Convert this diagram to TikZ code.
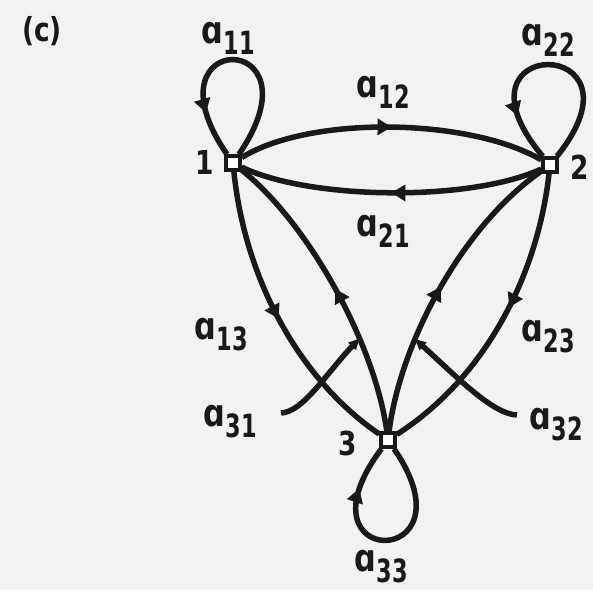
\documentclass[tikz,border=0pt]{standalone}
\usepackage{fontspec}
\usepackage{graphicx}
\newfontfamily\djf{DejaVu Sans}
\usetikzlibrary{arrows.meta,decorations.markings,backgrounds}
\definecolor{paper}{gray}{0.95}
\definecolor{ink}{gray}{0.1}
\newcommand{\albl}[1]{{\djf\bfseries\scalebox{0.8}[1]{\fontsize{38}{38}\selectfont ɑ}\hspace{1pt}\raisebox{-11pt}{\scalebox{0.7}[1]{\fontsize{32}{32}\selectfont #1}}}}
\newcommand{\nlbl}[1]{{\djf\bfseries\scalebox{0.8}[1]{\fontsize{33}{33}\selectfont #1}}}
\tikzset{
  sq/.style={rectangle, draw=ink, fill=white, line width=3.5pt, minimum size=14pt, inner sep=0pt},
  edge/.style={draw=ink, line width=5.5pt},
  lab/.style={inner sep=0pt, anchor=base west, text=ink},
  midarrow/.style={postaction={decorate}, decoration={markings, mark=at position #1 with {\arrow[ink]{Triangle[length=14pt,width=16pt]}}}},
  leadtip/.style={-{Triangle[length=11pt,width=10pt]}}
}
\begin{document}
\begin{tikzpicture}[x=1pt,y=-1pt]
\begin{scope}[on background layer]
\fill[paper] (0,0) rectangle (593,590);
\end{scope}
\useasboundingbox (0,0) rectangle (593,590);
% states
\node[sq] (n1) at (233,163) {};
\node[sq] (n2) at (550,165) {};
\node[sq] (n3) at (388,440) {};
% labels
\node[inner sep=0pt, text=ink] (tc) at (42,31) {\nlbl{(c)}};
\node[inner sep=0pt, text=ink] (t1) at (205,162) {\nlbl{1}};
\node[inner sep=0pt, text=ink] (t2) at (580,167) {\nlbl{2}};
\node[inner sep=0pt, text=ink] (t3) at (348,443) {\nlbl{3}};
\node[lab] (l11) at (201,43) {\albl{11}};
\node[lab] (l22) at (521,45) {\albl{22}};
\node[lab] (l12) at (356,97) {\albl{12}};
\node[lab] (l21) at (356,236) {\albl{21}};
\node[lab] (l13) at (194,339) {\albl{13}};
\node[lab] (l31) at (203,426) {\albl{31}};
\node[lab] (l23) at (521,341) {\albl{23}};
\node[lab] (l32) at (529,429) {\albl{32}};
\node[lab] (l33) at (354,571) {\albl{33}};
\coordinate (c31) at (281,413);
\coordinate (c32) at (517,415);
\begin{scope}[on background layer]
% 1 <-> 2
\draw[edge, midarrow=0.5] (n1) .. controls (310,115) and (470,118) .. (n2);
\draw[edge, midarrow=0.5] (n2) .. controls (470,202) and (310,200) .. (n1);
% 1 <-> 3
\draw[edge, midarrow=0.5] (n1) .. controls (245,280) and (300,380) .. (n3);
\draw[edge, midarrow=0.5] (n3) .. controls (375,345) and (310,225) .. (n1) coordinate[pos=0.33] (p31);
% 2 <-> 3
\draw[edge, midarrow=0.45] (n2) .. controls (537,280) and (482,380) .. (n3);
\draw[edge, midarrow=0.5] (n3) .. controls (400,345) and (460,228) .. (n2) coordinate[pos=0.33] (p32);
% self loops
\draw[edge, midarrow=0.8] (n1) .. controls (325,28) and (140,28) .. (n1);
\draw[edge, midarrow=0.8] (n2) .. controls (655,34) and (440,34) .. (n2);
\draw[edge, midarrow=0.8] (n3) .. controls (478,571) and (290,571) .. (n3);
% leaders
\draw[edge, leadtip] (c31) .. controls (303,412) and (325,375) .. (p31);
\draw[edge, leadtip] (c32) .. controls (492,414) and (455,375) .. (p32);
\end{scope}
\end{tikzpicture}
\end{document}
